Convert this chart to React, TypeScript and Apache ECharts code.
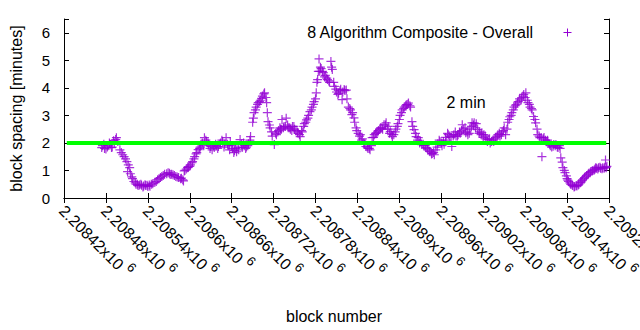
import React, { useEffect, useRef } from "react";
import * as echarts from "echarts";

// block numbers (x)
const blockNumbers = [
  2208474, 2208477, 2208480, 2208482, 2208485, 2208488, 2208491, 2208494, 2208495, 2208500,
  2208504, 2208508, 2208510, 2208511, 2208514, 2208517, 2208520, 2208522, 2208525, 2208528,
  2208531, 2208534, 2208537, 2208540, 2208542, 2208545, 2208550, 2208554, 2208558, 2208562,
  2208567, 2208571, 2208574, 2208578, 2208582, 2208587, 2208590, 2208592, 2208595, 2208598,
  2208601, 2208604, 2208607, 2208610, 2208612, 2208615, 2208618, 2208621, 2208624, 2208627,
  2208630, 2208632, 2208635, 2208638, 2208641, 2208644, 2208647, 2208650, 2208652, 2208655,
  2208658, 2208661, 2208664, 2208667, 2208670, 2208672, 2208675, 2208678, 2208681, 2208684,
  2208687, 2208690, 2208692, 2208695, 2208698, 2208701, 2208704, 2208707, 2208710, 2208711,
  2208712, 2208715, 2208718, 2208721, 2208724, 2208727, 2208730, 2208732, 2208735, 2208738,
  2208741, 2208744, 2208747, 2208750, 2208752, 2208755, 2208758, 2208761, 2208764, 2208767,
  2208770, 2208772, 2208775, 2208778, 2208781, 2208782, 2208784, 2208785, 2208787, 2208788,
  2208791, 2208794, 2208797, 2208800, 2208802, 2208804, 2208807, 2208810, 2208812, 2208815,
  2208818, 2208821, 2208824, 2208827, 2208830, 2208832, 2208835, 2208838, 2208841, 2208844,
  2208847, 2208850, 2208852, 2208855, 2208858, 2208861, 2208864, 2208867, 2208870, 2208872,
  2208875, 2208878, 2208881, 2208884, 2208887, 2208890, 2208892, 2208895, 2208898, 2208901,
  2208904, 2208907, 2208910, 2208912, 2208915, 2208918, 2208921, 2208924, 2208927, 2208930,
  2208932, 2208935, 2208938, 2208941, 2208944, 2208947, 2208950, 2208952, 2208955, 2208958,
  2208961, 2208964, 2208967, 2208970, 2208972, 2208975, 2208978, 2208981, 2208984, 2208987,
  2208990, 2208992, 2208995, 2208998, 2209001, 2209004, 2209007, 2209010, 2209012, 2209015,
  2209018, 2209021, 2209024, 2209027, 2209030, 2209032, 2209035, 2209038, 2209041, 2209044,
  2209047, 2209050, 2209052, 2209055, 2209058, 2209061, 2209064, 2209067, 2209070, 2209072,
  2209075, 2209078, 2209081, 2209084, 2209087, 2209090, 2209092, 2209095, 2209098, 2209101,
  2209104, 2209107, 2209110, 2209112, 2209115, 2209118, 2209121, 2209124, 2209127, 2209130,
  2209131, 2209134, 2209137, 2209140, 2209142, 2209145, 2209148, 2209151, 2209154, 2209157,
  2209160, 2209162, 2209165, 2209168, 2209171, 2209174, 2209177, 2209180, 2209182, 2209185,
  2209188, 2209191, 2209194, 2209195, 2209197,
];

// block spacing in minutes (y)
const blockSpacing = [
  1.83, 1.95, 1.78, 1.85, 2.0, 1.83, 2.08, 2.12, 2.19, 1.75,
  1.57, 1.42, 1.32, 0.96, 1.1, 0.77, 0.6, 0.55, 0.5, 0.47,
  0.46, 0.44, 0.45, 0.42, 0.47, 0.5, 0.57, 0.66, 0.74, 0.82,
  0.88, 0.9, 0.86, 0.82, 0.76, 0.7, 0.66, 0.98, 1.05, 1.12,
  1.2, 1.32, 1.5, 1.65, 1.76, 1.85, 2.0, 2.19, 2.05, 1.95,
  1.87, 1.75, 1.83, 1.9, 1.87, 2.0, 2.05, 1.95, 2.19, 1.9,
  2.05, 1.8, 1.72, 1.68, 1.75, 2.12, 1.83, 1.9, 1.85, 1.97,
  2.23, 2.75, 3.1, 3.3, 3.46, 3.55, 3.7, 3.82, 3.46, 3.1,
  2.77, 2.55, 2.25, 1.94, 2.3, 2.45, 2.5, 2.85, 2.6, 2.9,
  2.55, 2.5, 2.6, 2.5, 2.45, 2.35, 2.23, 2.4, 2.7, 2.84,
  3.0, 3.14, 3.3, 3.5, 3.82, 4.2, 4.6, 5.05, 4.75, 4.7,
  4.55, 4.45, 4.3, 4.2, 4.96, 4.67, 4.05, 3.85, 3.76, 3.9,
  3.57, 3.94, 3.92, 3.3, 3.2, 3.03, 2.91, 2.55, 2.35, 2.3,
  2.15, 1.95, 1.87, 1.8, 1.75, 2.19, 2.3, 2.37, 2.45, 2.5,
  2.55, 2.66, 2.73, 2.6, 2.41, 2.23, 2.3, 2.5, 2.7, 3.0,
  3.2, 3.3, 3.39, 3.4, 3.35, 2.77, 2.48, 2.23, 2.19, 2.05,
  1.94, 1.9, 1.83, 1.75, 1.68, 1.62, 1.57, 1.75, 1.97, 2.05,
  1.9, 1.95, 2.1, 2.3, 2.25, 1.87, 2.3, 2.25, 2.3, 2.35,
  2.66, 2.5, 2.37, 2.3, 2.5, 2.73, 2.73, 2.7, 2.48, 2.4,
  2.37, 2.3, 2.15, 2.12, 2.0, 2.05, 2.05, 2.2, 2.3, 2.25,
  2.4, 2.55, 2.3, 2.75, 2.95, 3.1, 3.3, 3.39, 3.5, 3.6,
  3.64, 3.76, 3.82, 3.46, 3.3, 3.2, 2.96, 2.73, 2.3, 2.19,
  1.5, 2.2, 2.05, 2.1, 1.95, 1.85, 1.94, 1.94, 1.83, 1.8,
  1.46, 1.1, 0.92, 0.7, 0.6, 0.5, 0.45, 0.42, 0.44, 0.5,
  0.58, 0.66, 0.74, 0.82, 0.9, 0.96, 1.0, 1.05, 1.08, 1.1,
  1.08, 1.1, 1.12, 1.38, 1.15,
];

// further points of the same series (the band is dense)
const moreBlockNumbers = [
  2208475, 2208478, 2208483, 2208486, 2208489, 2208492, 2208497, 2208502, 2208506, 2208512,
  2208515, 2208518, 2208523, 2208526, 2208530, 2208533, 2208536, 2208539, 2208543, 2208547,
  2208552, 2208556, 2208560, 2208564, 2208569, 2208572, 2208576, 2208580, 2208584, 2208588,
  2208591, 2208593, 2208597, 2208600, 2208603, 2208606, 2208609, 2208614, 2208616, 2208620,
  2208623, 2208626, 2208629, 2208634, 2208637, 2208640, 2208643, 2208646, 2208649, 2208654,
  2208657, 2208660, 2208663, 2208666, 2208669, 2208674, 2208677, 2208680, 2208683, 2208686,
  2208691, 2208694, 2208697, 2208700, 2208703, 2208706, 2208709, 2208714, 2208717, 2208723,
  2208726, 2208729, 2208731, 2208734, 2208737, 2208740, 2208743, 2208746, 2208749, 2208754,
  2208757, 2208760, 2208763, 2208766, 2208769, 2208774, 2208777, 2208780, 2208783, 2208786,
  2208790, 2208793, 2208796, 2208799, 2208803, 2208806, 2208809, 2208813, 2208816, 2208819,
  2208822, 2208825, 2208829, 2208833, 2208836, 2208839, 2208843, 2208846, 2208849, 2208854,
  2208857, 2208860, 2208863, 2208866, 2208869, 2208873, 2208876, 2208880, 2208883, 2208886,
  2208889, 2208894, 2208897, 2208900, 2208903, 2208906, 2208909, 2208913, 2208916, 2208919,
  2208923, 2208926, 2208929, 2208934, 2208937, 2208940, 2208943, 2208946, 2208949, 2208954,
  2208957, 2208960, 2208963, 2208966, 2208969, 2208974, 2208977, 2208980, 2208983, 2208986,
  2208989, 2208994, 2208997, 2209000, 2209003, 2209006, 2209009, 2209014, 2209017, 2209020,
  2209023, 2209026, 2209029, 2209034, 2209037, 2209040, 2209043, 2209046, 2209049, 2209054,
  2209057, 2209060, 2209063, 2209066, 2209069, 2209074, 2209077, 2209080, 2209083, 2209086,
  2209089, 2209094, 2209097, 2209100, 2209103, 2209106, 2209109, 2209113, 2209116, 2209120,
  2209123, 2209126, 2209129, 2209133, 2209136, 2209139, 2209141, 2209144, 2209147, 2209150,
  2209153, 2209156, 2209159, 2209161, 2209164, 2209167, 2209170, 2209173, 2209176, 2209179,
  2209181, 2209184, 2209187, 2209190, 2209193, 2209196,
];

const moreBlockSpacing = [
  1.9, 1.8, 1.9, 1.95, 1.85, 2.0, 2.05, 1.65, 1.5, 1.2,
  0.88, 0.7, 0.5, 0.45, 0.5, 0.4, 0.48, 0.46, 0.43, 0.52,
  0.6, 0.7, 0.78, 0.86, 0.92, 0.85, 0.84, 0.78, 0.74, 0.72,
  0.62, 1.0, 1.1, 1.15, 1.28, 1.42, 1.6, 1.8, 1.95, 1.9,
  2.1, 2.0, 1.8, 1.9, 1.95, 1.8, 1.95, 2.1, 1.85, 1.95,
  1.75, 1.9, 1.65, 1.8, 1.85, 1.95, 2.0, 1.8, 1.9, 2.1,
  2.9, 3.2, 3.4, 3.5, 3.62, 3.78, 3.65, 2.65, 2.4, 2.35,
  2.4, 2.55, 2.5, 2.55, 2.6, 2.65, 2.55, 2.45, 2.6, 2.4,
  2.3, 2.45, 2.6, 2.75, 2.9, 3.2, 3.4, 3.6, 4.3, 4.6,
  4.6, 4.4, 4.35, 4.25, 4.75, 4.2, 3.95, 3.8, 3.95, 3.85,
  3.9, 3.6, 3.25, 3.1, 2.75, 2.45, 2.25, 2.1, 2.0, 1.85,
  1.8, 1.9, 2.2, 2.35, 2.4, 2.55, 2.5, 2.65, 2.5, 2.35,
  2.3, 2.4, 2.6, 2.85, 3.1, 3.25, 3.35, 3.45, 3.3, 2.6,
  2.35, 2.1, 2.0, 1.95, 1.9, 1.8, 1.7, 1.6, 1.65, 1.85,
  2.1, 2.0, 2.05, 2.2, 2.35, 2.2, 2.25, 2.4, 2.25, 2.4,
  2.45, 2.55, 2.4, 2.35, 2.6, 2.65, 2.55, 2.35, 2.3, 2.2,
  2.25, 2.05, 2.15, 2.1, 2.15, 2.25, 2.35, 2.3, 2.45, 2.5,
  2.85, 3.0, 3.2, 3.35, 3.45, 3.55, 3.7, 3.65, 3.55, 3.4,
  3.25, 2.85, 2.5, 2.25, 2.2, 2.15, 2.1, 2.0, 1.9, 1.88,
  1.9, 1.85, 1.9, 1.3, 1.0, 0.8, 0.65, 0.55, 0.48, 0.4,
  0.45, 0.47, 0.55, 0.62, 0.7, 0.78, 0.86, 0.92, 0.98, 1.02,
  1.1, 1.05, 1.12, 1.06, 1.08, 1.1,
];

// the "2 min" reference line
const refLineBlocks = [2208424, 2209196];
const refLineMinutes = [2, 2];

// axis ranges
const xRange = [2208420, 2209200];
const xStep = 60;
const yRange = [0, 6.5];
const yStep = 1;

const seriesName = "8 Algorithm Composite - Overall";
const refLabel = "2 min";
const xAxisTitle = "block number";
const yAxisTitle = "block spacing [minutes]";

const FONT = "'Liberation Sans', Arial, Helvetica, sans-serif";
const PURPLE = "#9400D3";

export default function App() {
  const ref = useRef<HTMLDivElement>(null);

  useEffect(() => {
    const chart = echarts.init(ref.current!, null, { renderer: "svg" });

    const axisLine = { show: true, lineStyle: { color: "#000", width: 1 } };
    const axisTick = { show: true, inside: true, length: 5, lineStyle: { color: "#000", width: 1 } };

    const xCommon = {
      type: "value" as const,
      min: xRange[0],
      max: xRange[1],
      interval: xStep,
      gridIndex: 0,
      axisLine,
      axisTick,
      splitLine: { show: false },
    };
    const yCommon = {
      type: "value" as const,
      min: yRange[0],
      max: yRange[1],
      interval: yStep,
      gridIndex: 0,
      axisLine,
      axisTick,
      splitLine: { show: false },
    };

    const points = blockNumbers
      .map((b, i) => [b, blockSpacing[i]])
      .concat(moreBlockNumbers.map((b, i) => [b, moreBlockSpacing[i]]));

    chart.setOption({
      animation: false,
      backgroundColor: "#fff",
      textStyle: { fontFamily: FONT },
      grid: {
        left: 64,
        right: 31,
        top: 19,
        bottom: 132,
        show: false,
        containLabel: false,
        outerBoundsMode: "none",
      },
      xAxis: [
        {
          ...xCommon,
          position: "bottom",
          axisLabel: {
            show: true,
            rotate: -45,
            margin: 8,
            color: "#000",
            fontFamily: FONT,
            hideOverlap: false,
            formatter: (v: number) => {
              const s = String(Number((v / 1e6).toFixed(5)));
              return `{n|${s}x10}{s|6}`;
            },
            rich: {
              n: { fontSize: 16, fontFamily: FONT, color: "#000", lineHeight: 22, verticalAlign: "bottom" },
              s: { fontSize: 13, fontFamily: FONT, color: "#000", lineHeight: 14, verticalAlign: "top", padding: [0, 0, 0, 4] },
            },
          },
        },
        { ...xCommon, position: "top", axisLabel: { show: false } },
      ],
      yAxis: [
        {
          ...yCommon,
          position: "left",
          axisLabel: {
            show: true,
            margin: 14,
            fontSize: 15,
            color: "#000",
            fontFamily: FONT,
            formatter: (v: number) => (Number.isInteger(v) ? String(v) : ""),
          },
        },
        { ...yCommon, position: "right", axisLabel: { show: false } },
      ],
      series: [
        {
          name: seriesName,
          type: "scatter",
          xAxisIndex: 0,
          yAxisIndex: 0,
          symbol: "path://M0,5L10,5M5,0L5,10",
          symbolSize: 9,
          itemStyle: { color: PURPLE, borderColor: PURPLE, borderWidth: 1.2 },
          data: points,
          silent: true,
          z: 2,
        },
        {
          name: refLabel,
          type: "line",
          xAxisIndex: 0,
          yAxisIndex: 0,
          symbol: "none",
          lineStyle: { color: "#00FF00", width: 4 },
          data: refLineBlocks.map((b, i) => [b, refLineMinutes[i]]),
          silent: true,
          z: 3,
        },
      ],
      graphic: [
        {
          type: "text",
          x: 533,
          y: 32,
          style: {
            text: seriesName,
            fontSize: 16,
            fontFamily: FONT,
            fill: "#000",
            align: "right",
            verticalAlign: "middle",
          },
        },
        {
          type: "line",
          shape: { x1: 563.5, y1: 32.5, x2: 571.5, y2: 32.5 },
          style: { stroke: PURPLE, lineWidth: 1 },
        },
        {
          type: "line",
          shape: { x1: 567.5, y1: 28.5, x2: 567.5, y2: 36.5 },
          style: { stroke: PURPLE, lineWidth: 1 },
        },
        {
          type: "text",
          x: 446.5,
          y: 102,
          style: {
            text: refLabel,
            fontSize: 16,
            fontFamily: FONT,
            fill: "#000",
            align: "left",
            verticalAlign: "middle",
          },
        },
        {
          type: "text",
          x: 334,
          y: 316,
          style: {
            text: xAxisTitle,
            fontSize: 16,
            fontFamily: FONT,
            fill: "#000",
            align: "center",
            verticalAlign: "middle",
          },
        },
        {
          type: "text",
          x: 16.5,
          y: 108.5,
          rotation: Math.PI / 2,
          style: {
            text: yAxisTitle,
            fontSize: 16,
            fontFamily: FONT,
            fill: "#000",
            align: "center",
            verticalAlign: "middle",
          },
        },
      ],
    });

    return () => chart.dispose();
  }, []);

  return (
    <div
      ref={ref}
      style={{ position: "fixed", left: 0, top: 0, width: 640, height: 330, background: "#fff" }}
    />
  );
}
